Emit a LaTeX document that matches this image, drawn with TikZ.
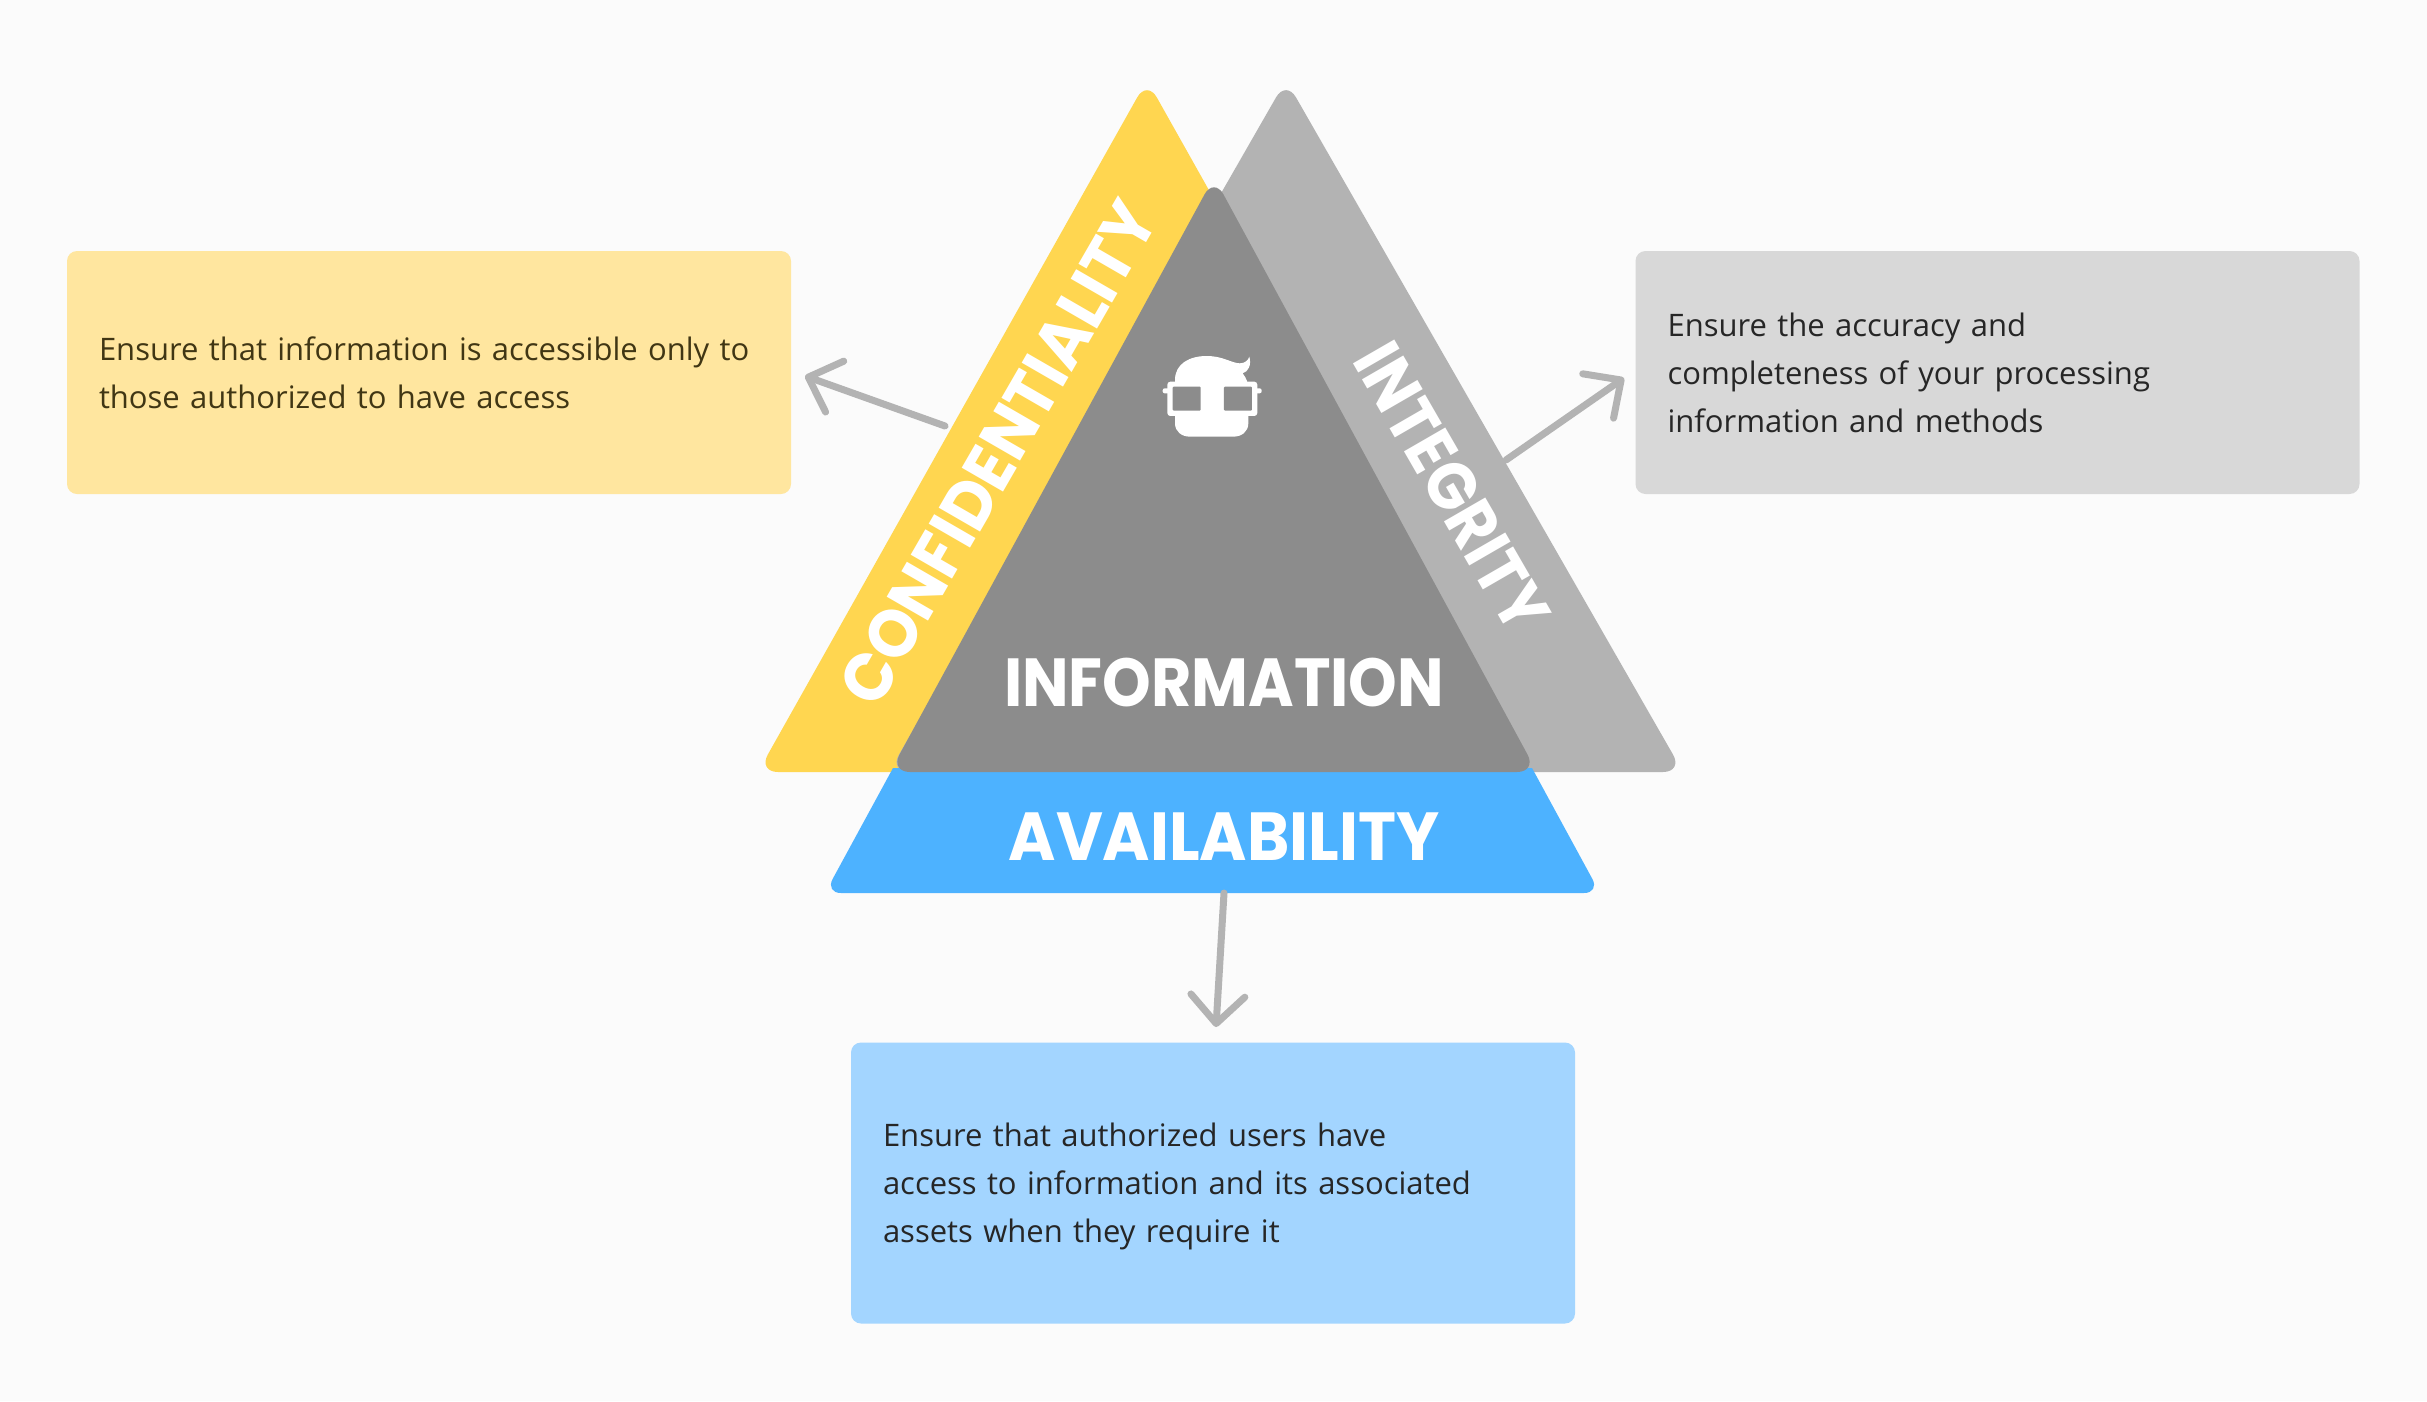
\documentclass[tikz,border=0pt]{standalone}
\usepackage{fontspec}
\setmainfont{Open Sans}
\newfontfamily\headfont{Poppins}[FakeStretch=0.91]
\newfontfamily\headwide{Poppins}[FakeStretch=0.945]
\usetikzlibrary{arrows.meta}
\definecolor{pagebg}{HTML}{FBFBFB}
\definecolor{confcol}{HTML}{FFD650}
\definecolor{confbox}{HTML}{FFE69F}
\definecolor{integcol}{HTML}{B3B3B3}
\definecolor{integbox}{HTML}{D8D8D8}
\definecolor{infocol}{HTML}{8C8C8C}
\definecolor{availcol}{HTML}{4DB2FF}
\definecolor{availbox}{HTML}{A3D5FF}
\tikzset{
  infobox/.style={rectangle,rounded corners=10pt,minimum width=724pt,inner sep=32pt,
    text width=660pt,align=left,font=\fontsize{31}{48}\selectfont},
  headlabel/.style={text=white,inner sep=0pt,font=\headfont\bfseries\fontsize{68}{68}\selectfont},
  pointer/.style={line width=7pt,color=integcol,line cap=round,
    -{Straight Barb[round,length=28pt,width=54pt]}},
}
\begin{document}
\begin{tikzpicture}[x=1pt,y=-1pt]
  \useasboundingbox (0,0) rectangle (2427,1401);
  \fill[pagebg] (0,0) rectangle (2427,1401);
  % Triangles
  \fill[confcol,rounded corners=20pt] (1147,80) -- (1536,772) -- (758,772) -- cycle;
  \fill[integcol,rounded corners=20pt] (1286,80) -- (1683,772) -- (889,772) -- cycle;
  \fill[availcol] (893,768) [rounded corners=16pt] -- (825,893) -- (1600,893) [sharp corners] -- (1532,768) -- cycle;
  \fill[infocol,rounded corners=20pt] (1214,177) -- (1537,772) -- (890,772) -- cycle;
  % Labels on the triangles
  \node[headlabel,rotate=60] (confLabel) at (998,453) {\headwide\bfseries CONFIDENTIALITY};
  \node[headlabel,rotate=-60] (integLabel) at (1452,487) {INTEGRITY};
  \node[headlabel] (infoLabel) at (1224,683) {INFORMATION};
  \node[headlabel] (availLabel) at (1224,837) {\headwide\bfseries AVAILABILITY};
  % Head with glasses
  \begin{scope}[shift={(1050,280)},x=0.3333pt,y=-0.3333pt]
    \fill[white] (375,430) -- (375,300) .. controls (375,250) and (420,228) .. (470,228)
      .. controls (520,228) and (545,250) .. (570,250)
      .. controls (585,250) and (595,240) .. (598,230)
      .. controls (605,255) and (595,275) .. (578,280)
      .. controls (590,295) and (595,310) .. (595,330) -- (595,430)
      .. controls (595,455) and (575,470) .. (550,470) -- (420,470)
      .. controls (395,470) and (375,455) .. (375,430) -- cycle;
    \fill[white,rounded corners=3pt] (352,305) rectangle (622,408);
    \fill[white,rounded corners=2pt] (338,325) rectangle (635,340);
    \fill[infocol,rounded corners=1pt] (368,320) rectangle (452,392);
    \fill[infocol,rounded corners=1pt] (522,320) rectangle (606,392);
  \end{scope}
  % Text boxes
  \node[infobox,fill=confbox,text=black!75!confcol,minimum height=243pt] (confBox) at (429,372.5)
    {Ensure that information is accessible only to\\those authorized to have access};
  \node[infobox,fill=integbox,text=black!85,minimum height=243pt] (integBox) at (1997.5,372.5)
    {Ensure the accuracy and\\completeness of your processing\\information and methods};
  \node[infobox,fill=availbox,text=black!85,minimum height=281pt] (availBox) at (1213,1183)
    {\rule{0pt}{31pt}Ensure that authorized users have\\access to information and its associated\\assets when they require it};
  % Pointers
  \coordinate (confTail) at (945,426);
  \coordinate (confHead) at (805,376);
  \coordinate (integTail) at (1506,460);
  \coordinate (integHead) at (1624,378);
  \coordinate (availTail) at (1224,893);
  \coordinate (availHead) at (1216,1027);
  \draw[pointer] (confTail) -- (confHead);
  \draw[pointer] (integTail) -- (integHead);
  \draw[pointer] (availTail) -- (availHead);
\end{tikzpicture}
\end{document}
